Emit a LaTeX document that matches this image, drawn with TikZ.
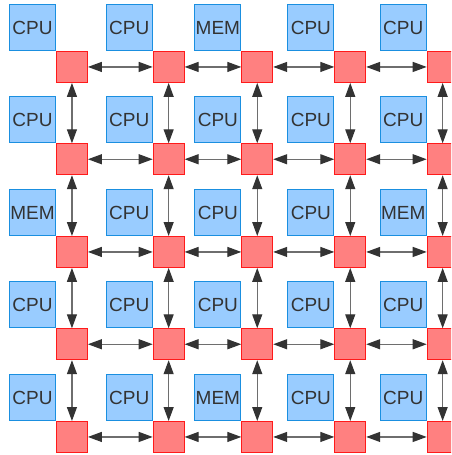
\documentclass[tikz,border=0pt]{standalone}
\usepackage{fontspec}
\setmainfont{Liberation Sans}
\usetikzlibrary{arrows.meta}

\definecolor{unitfill}{HTML}{99CCFF}
\definecolor{unitedge}{HTML}{1A8FE0}
\definecolor{routerfill}{HTML}{FF8080}
\definecolor{routeredge}{HTML}{FF1A1A}
\definecolor{linkgray}{HTML}{6E6E6E}
\definecolor{darktext}{HTML}{333333}

\tikzset{
  unit/.style={draw=unitedge, fill=unitfill, minimum size=46pt, inner sep=0pt,
    line width=0.9pt, text=darktext, font=\fontsize{19}{19}\selectfont},
  router/.style={draw=routeredge, fill=routerfill, minimum size=31pt, inner sep=0pt,
    line width=0.9pt},
  link/.style={draw=linkgray, line width=1.2pt,
    {Triangle[length=14pt,width=10pt,color=darktext]}-{Triangle[length=14pt,width=10pt,color=darktext]}}
}

\begin{document}
\begin{tikzpicture}[x=1pt,y=-1pt]
\clip (0,0) rectangle (451,455);
\useasboundingbox (0,0) rectangle (451,455);

% routers and the processor / memory tile sitting at each one
\foreach \r/\y/\labels in {1/51/{CPU,CPU,MEM,CPU,CPU},
                           2/143.3/{CPU,CPU,CPU,CPU,CPU},
                           3/236/{MEM,CPU,CPU,CPU,MEM},
                           4/328.3/{CPU,CPU,CPU,CPU,CPU},
                           5/421/{CPU,CPU,MEM,CPU,CPU}}
  \foreach \t [count=\c] in \labels {
    \pgfmathsetmacro{\x}{{56,152.7,241.3,334.3,426.7}[\c-1]}
    \node[router, anchor=north west] (r-\r-\c) at (\x,\y) {};
    \node[unit, anchor=south east] (u-\r-\c) at (r-\r-\c.north west) {\t};
  }

% mesh links, east-west then north-south
\foreach \r in {1,...,5}
  \foreach \c in {1,...,4} {
    \pgfmathtruncatemacro{\nxt}{\c+1}
    \draw[link] (r-\r-\c) -- (r-\r-\nxt);
  }
\foreach \r in {1,...,4}
  \foreach \c in {1,...,5} {
    \pgfmathtruncatemacro{\nxt}{\r+1}
    \draw[link] (r-\r-\c) -- (r-\nxt-\c);
  }
\end{tikzpicture}
\end{document}
